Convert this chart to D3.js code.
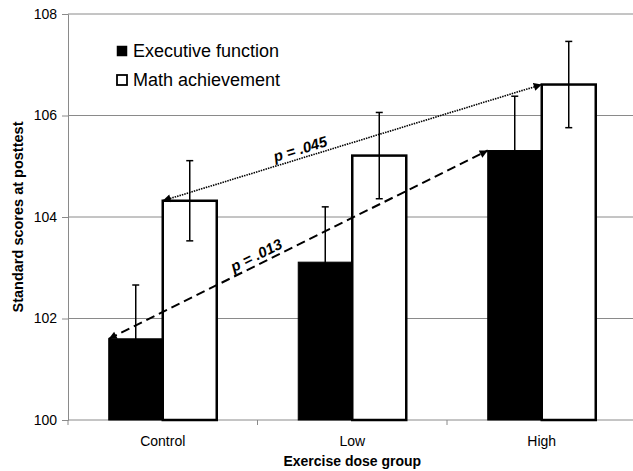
<!DOCTYPE html>
<html>
<head>
<meta charset="utf-8">
<script src="https://cdn.jsdelivr.net/npm/d3@7"></script>
<style>
  html, body { margin: 0; padding: 0; background: #fff; }
  svg { display: block; }
  text { font-family: "Liberation Sans", Arial, sans-serif; fill: #000; }
</style>
</head>
<body>
<svg id="chart" width="633" height="471"></svg>
<script>
// ---- data ----
const categories = ["Control", "Low", "High"];
const seriesNames = ["Executive function", "Math achievement"];
const execValues = [101.6, 103.11, 105.31];
const execErrors = [1.06, 1.09, 1.07];
const mathValues = [104.32, 105.21, 106.61];
const mathErrors = [0.79, 0.85, 0.85];
const yTicks = [100, 102, 104, 106, 108];
const comparisonLabels = ["p = .013", "p = .045"];
const xTitle = "Exercise dose group";
const yTitle = "Standard scores at posttest";

// ---- build ----
(function () {
const svg = d3.select("#chart");
const W = 633;
const mLeft = 68, mTop = 14, mBottom = 420, mRight = 636.5;

const x = d3.scaleBand().domain(categories).range([mLeft, mRight])
  .paddingInner(0.43).paddingOuter(0.215);
const xs = d3.scaleBand().domain(seriesNames).range([0, x.bandwidth()]);
const y = d3.scaleLinear().domain([100, 108]).range([mBottom, mTop]);

const gridColor = "#8a8a8a";

// gridlines
svg.append("g").selectAll("line").data(yTicks.filter(t => t !== 100)).join("line")
  .attr("x1", mLeft).attr("x2", W)
  .attr("y1", d => y(d)).attr("y2", d => y(d))
  .attr("stroke", gridColor).attr("stroke-width", 1);

// y axis
const yAxis = d3.axisLeft(y).tickValues(yTicks).tickSize(6).tickPadding(5).tickFormat(d3.format("d"));
const gy = svg.append("g").attr("transform", `translate(${mLeft},0)`).call(yAxis);
gy.select(".domain").attr("stroke", gridColor);
gy.selectAll(".tick line").attr("stroke", gridColor);
gy.selectAll(".tick text").attr("font-size", 14).attr("font-family", "Liberation Sans, Arial, sans-serif").attr("fill", "#000");

// x axis
const gx = svg.append("g").attr("transform", `translate(0,${mBottom})`);
gx.append("line").attr("x1", mLeft).attr("x2", W).attr("y1", 0).attr("y2", 0).attr("stroke", gridColor);
const bounds = categories.map(c => x(c) - (x.step() - x.bandwidth()) / 2);
gx.selectAll("line.tk").data(bounds).join("line").attr("class", "tk")
  .attr("x1", d => d).attr("x2", d => d).attr("y1", 0).attr("y2", 5).attr("stroke", gridColor);
gx.selectAll("text").data(categories).join("text")
  .attr("x", d => x(d) + x.bandwidth() / 2).attr("y", 26)
  .attr("text-anchor", "middle").attr("font-size", 14).text(d => d);

// bars
const rows = categories.map((c, i) => [
  { cat: c, s: seriesNames[0], v: execValues[i], e: execErrors[i] },
  { cat: c, s: seriesNames[1], v: mathValues[i], e: mathErrors[i] }
]).flat();

svg.append("g").selectAll("rect").data(rows).join("rect")
  .attr("x", d => x(d.cat) + xs(d.s))
  .attr("y", d => y(d.v))
  .attr("width", xs.bandwidth())
  .attr("height", d => y(100) - y(d.v))
  .attr("fill", d => d.s === seriesNames[0] ? "#000" : "#fff")
  .attr("stroke", "#000")
  .attr("stroke-width", d => d.s === seriesNames[0] ? 1 : 2.5);

// error bars
const errG = svg.append("g").attr("stroke", "#000").attr("stroke-width", 1.5);
rows.forEach(d => {
  const cx = x(d.cat) + xs(d.s) + xs.bandwidth() / 2;
  errG.append("line").attr("x1", cx).attr("x2", cx).attr("y1", y(d.v + d.e)).attr("y2", y(d.v - d.e));
  [d.v + d.e, d.v - d.e].forEach(v => {
    errG.append("line").attr("x1", cx - 3.5).attr("x2", cx + 3.5).attr("y1", y(v)).attr("y2", y(v));
  });
});

// arrow markers
const defs = svg.append("defs");
["arrEnd", "arrStart"].forEach(id => {
  defs.append("marker").attr("id", id)
    .attr("viewBox", "0 0 10 10").attr("refX", 10).attr("refY", 5)
    .attr("markerWidth", 9).attr("markerHeight", 8).attr("markerUnits", "userSpaceOnUse")
    .attr("orient", id === "arrEnd" ? "auto" : "auto-start-reverse")
    .append("path").attr("d", "M0,0 L10,5 L0,10 z").attr("fill", "#000");
});

// comparison arrows
const comps = [
  { vals: execValues, s: seriesNames[0], label: comparisonLabels[0], dash: "9,5", w: 2, t: 0.40 },
  { vals: mathValues, s: seriesNames[1], label: comparisonLabels[1], dash: "1.5,1", w: 1.6, t: 0.37 }
];
comps.forEach(c => {
  const x1 = x(categories[0]) + xs(c.s), y1 = y(c.vals[0]);
  const x2 = x(categories[2]) + xs(c.s), y2 = y(c.vals[2]);
  svg.append("line").attr("x1", x1).attr("y1", y1).attr("x2", x2).attr("y2", y2)
    .attr("stroke", "#000").attr("stroke-width", c.w).attr("stroke-dasharray", c.dash)
    .attr("marker-end", "url(#arrEnd)").attr("marker-start", "url(#arrStart)");
  const ang = Math.atan2(y2 - y1, x2 - x1) * 180 / Math.PI;
  const px = x1 + (x2 - x1) * c.t, py = y1 + (y2 - y1) * c.t;
  svg.append("text").attr("transform", `translate(${px},${py}) rotate(${ang})`)
    .attr("y", -4).attr("text-anchor", "middle")
    .attr("font-size", 15).attr("font-weight", "bold").attr("font-style", "italic")
    .text(c.label);
});

// legend
const lg = svg.append("g");
seriesNames.forEach((s, i) => {
  const yy = 46 + i * 29;
  lg.append("rect").attr("x", 117).attr("y", yy).attr("width", 10).attr("height", 10)
    .attr("fill", i === 0 ? "#000" : "#fff").attr("stroke", "#000").attr("stroke-width", i === 0 ? 0.5 : 1.8);
  lg.append("text").attr("x", 133).attr("y", yy + 11).attr("font-size", 18).text(s);
});

// axis titles
svg.append("text").attr("x", (mLeft + mRight) / 2).attr("y", 466)
  .attr("text-anchor", "middle").attr("font-size", 14).attr("font-weight", "bold").text(xTitle);
svg.append("text").attr("transform", `translate(23,${(mTop + mBottom) / 2}) rotate(-90)`)
  .attr("text-anchor", "middle").attr("font-size", 14.5).attr("font-weight", "bold").text(yTitle);
})();
</script>
</body>
</html>
